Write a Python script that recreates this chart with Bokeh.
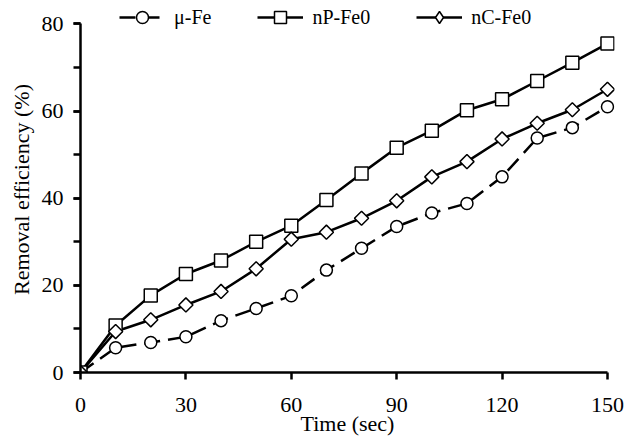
import numpy as np
from bokeh.plotting import figure
from bokeh.models import Range1d, SingleIntervalTicker, Legend, LegendItem
from bokeh.embed import file_html
from bokeh.resources import INLINE

time_sec = [0, 10, 20, 30, 40, 50, 60, 70, 80, 90, 100, 110, 120, 130, 140, 150]
mu_fe = [0, 5.7, 6.9, 8.2, 11.9, 14.7, 17.6, 23.5, 28.5, 33.5, 36.6, 38.8, 44.9, 53.8, 56.2, 61.0]
np_fe0 = [0, 10.8, 17.7, 22.6, 25.7, 30.0, 33.7, 39.6, 45.7, 51.6, 55.5, 60.2, 62.7, 66.9, 71.1, 75.5]
nc_fe0 = [0, 9.4, 12.1, 15.5, 18.6, 23.8, 30.6, 32.2, 35.4, 39.4, 44.9, 48.4, 53.6, 57.2, 60.3, 65.0]
series_names = ["μ-Fe", "nP-Fe0", "nC-Fe0"]

FONT = "Liberation Serif"

p = figure(width=626, height=443, output_backend="svg", toolbar_location=None,
           x_range=Range1d(0, 152), y_range=Range1d(0, 84),
           min_border_left=80, min_border_right=12, min_border_top=6, min_border_bottom=71)
p.outline_line_color = None
p.grid.visible = False
p.background_fill_color = "white"

# lines
l1 = p.line(time_sec, mu_fe, line_color="black", line_width=2.5, line_dash="16 8")
l2 = p.line(time_sec, np_fe0, line_color="black", line_width=2.5)
l3 = p.line(time_sec, nc_fe0, line_color="black", line_width=2.5)
# markers
m1 = p.scatter(time_sec, mu_fe, marker="circle", size=12, fill_color="white",
               line_color="black", line_width=1.5)
m2 = p.scatter(time_sec, np_fe0, marker="square", size=13, fill_color="white",
               line_color="black", line_width=1.5)
# diamond key for the legend (sits fully under the rotated squares below)
m3_key = p.scatter(time_sec, nc_fe0, marker="diamond", size=12, fill_color="white",
                   line_color="black", line_width=1.5)
m3 = p.scatter(time_sec, nc_fe0, marker="square", size=10, angle=np.pi / 4,
               fill_color="white", line_color="black", line_width=1.5)

for ax in (p.xaxis[0], p.yaxis[0]):
    ax.axis_line_color = "black"
    ax.axis_line_width = 2.5
    ax.major_tick_line_color = "black"
    ax.major_tick_line_width = 2.5
    ax.minor_tick_line_color = "black"
    ax.minor_tick_line_width = 2.5
    ax.major_tick_in = 0
    ax.major_tick_out = 7
    ax.minor_tick_in = 0
    ax.minor_tick_out = 7
    ax.major_label_text_font = FONT
    ax.major_label_text_font_size = "22px"
    ax.major_label_text_color = "black"
    ax.axis_label_text_font = FONT
    ax.axis_label_text_font_size = "22px"
    ax.axis_label_text_font_style = "normal"
    ax.axis_label_text_color = "black"

p.xaxis[0].ticker = SingleIntervalTicker(interval=30, num_minor_ticks=0)
p.yaxis[0].ticker = SingleIntervalTicker(interval=20, num_minor_ticks=2)
p.xaxis[0].bounds = (0, 150)
p.yaxis[0].bounds = (0, 80)
p.xaxis[0].axis_label = "Time (sec)"
p.yaxis[0].axis_label = "Removal efficiency (%)"
p.xaxis[0].major_label_standoff = 18
p.xaxis[0].axis_label_standoff = -4
p.yaxis[0].major_label_standoff = 10
p.yaxis[0].axis_label_standoff = 5

legend = Legend(items=[
    LegendItem(label=series_names[0], renderers=[l1, m1]),
    LegendItem(label=series_names[1], renderers=[l2, m2]),
    LegendItem(label=series_names[2], renderers=[l3, m3_key]),
], orientation="horizontal", location=(39, 340))
legend.border_line_color = None
legend.background_fill_alpha = 0
legend.padding = 0
legend.margin = 0
legend.spacing = 46
legend.glyph_width = 46
legend.glyph_height = 30
legend.label_standoff = 9
legend.label_text_font = FONT
legend.label_text_font_size = "20px"
legend.label_text_color = "black"
p.add_layout(legend, "center")

open("out.html", "w").write(file_html(p, INLINE))
